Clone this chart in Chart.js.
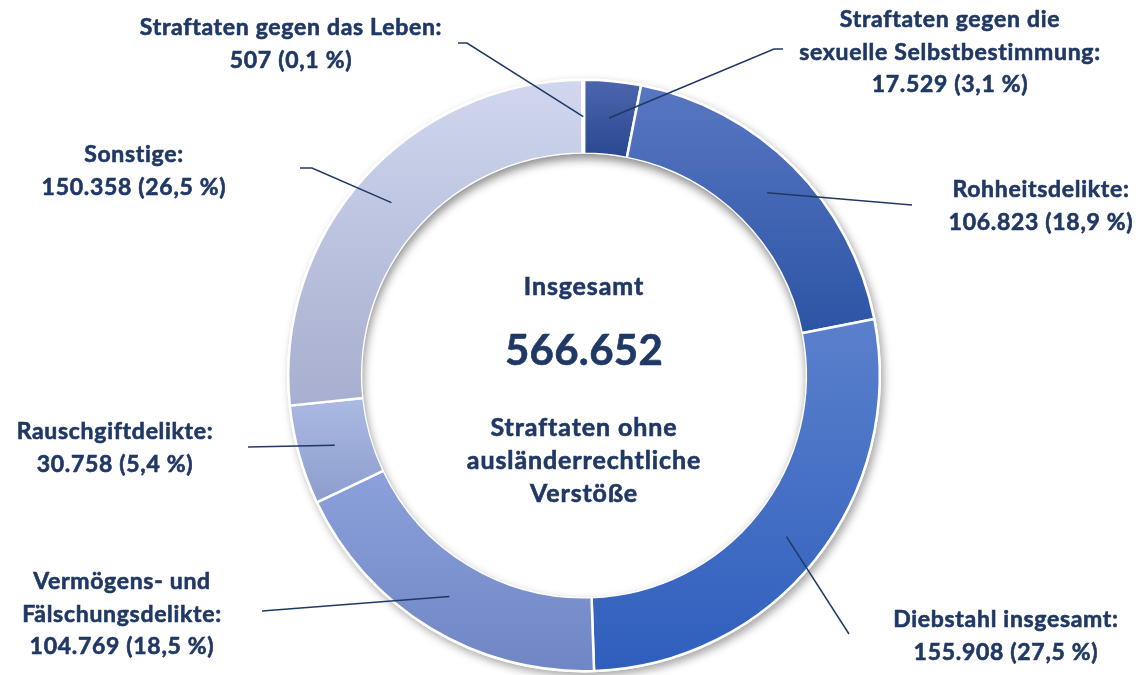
<!DOCTYPE html>
<html>
<head>
<meta charset="utf-8">
<script src="https://cdn.jsdelivr.net/npm/chart.js@4"></script>
<style>
  html, body { margin: 0; padding: 0; background: #fff; }
  #wrap { width: 1141px; height: 675px; position: relative; }
</style>
</head>
<body>
<div id="wrap"><canvas id="donut"></canvas></div>
<script>
// data (order: clockwise from 12 o'clock)
const categories = [
  ['Straftaten gegen die', 'sexuelle Selbstbestimmung:'],
  ['Rohheitsdelikte:'],
  ['Diebstahl insgesamt:'],
  ['Vermögens- und', 'Fälschungsdelikte:'],
  ['Rauschgiftdelikte:'],
  ['Sonstige:'],
  ['Straftaten gegen das Leben:']
];
const values = [17529, 106823, 155908, 104769, 30758, 150358, 507];
const shares = ['3,1 %', '18,9 %', '27,5 %', '18,5 %', '5,4 %', '26,5 %', '0,1 %'];
const totalLabel = '566.652';
const centerTitle = 'Insgesamt';
const centerNote = ['Straftaten ohne', 'ausländerrechtliche', 'Verstöße'];

// styles
const topCols = ['#4d67ad', '#5877c2', '#5b80cc', '#8ca1da', '#abbae2', '#d0d7ee', '#c4cce6'];
const botCols = ['#29488f', '#2c54a5', '#2e5fbd', '#6f85c5', '#8c9dcd', '#a7aecf', '#b0b8d8'];
const navy = '#203864';
const FONT = 'Lato, "Open Sans", sans-serif';
const CUT = 0.75;

// label layout: text center x, first line y, leader elbow points
const labelLayout = [
  { x: 950, y: 20, line: [[774, 49], [783, 49]] },
  { x: 1041, y: 190, line: [[912, 205]] },
  { x: 1006, y: 620, line: [[849, 634]] },
  { x: 122, y: 582, line: [[262, 611]] },
  { x: 115, y: 432, line: [[248, 447]] },
  { x: 134, y: 155, line: [[312, 168], [300, 168]] },
  { x: 291, y: 28, line: [[467, 43], [458, 43]] }
];

function fmt(n) { return n.toLocaleString('de-DE'); }

function geom(chart) {
  const a = chart.chartArea;
  const cx = (a.left + a.right) / 2, cy = (a.top + a.bottom) / 2;
  const R = Math.min(a.right - a.left, a.bottom - a.top) / 2;
  return { cx, cy, R, r: R * CUT };
}

function segAngles(i) {
  const tot = values.reduce((s, v) => s + v, 0);
  let acc = 0;
  for (let k = 0; k < i; k++) acc += values[k];
  const a0 = -Math.PI / 2 + acc / tot * 2 * Math.PI;
  const a1 = a0 + values[i] / tot * 2 * Math.PI;
  return [a0, a1];
}

function segGradient(c) {
  const chart = c.chart, i = c.dataIndex;
  if (!chart.chartArea) return topCols[i];
  const g = geom(chart);
  const [a0, a1] = segAngles(i);
  let ymin = Infinity, ymax = -Infinity;
  for (let s = 0; s <= 40; s++) {
    const a = a0 + (a1 - a0) * s / 40;
    for (const rr of [g.R, g.r]) {
      const y = g.cy + Math.sin(a) * rr;
      ymin = Math.min(ymin, y); ymax = Math.max(ymax, y);
    }
  }
  const grad = chart.ctx.createLinearGradient(0, ymin, 0, ymax);
  grad.addColorStop(0, topCols[i]);
  grad.addColorStop(1, botCols[i]);
  return grad;
}

const shadowPlugin = {
  id: 'shadows',
  beforeDatasetsDraw(chart) {
    const g = geom(chart), ctx = chart.ctx;
    ctx.save();
    ctx.shadowColor = 'rgba(0,0,0,0.35)';
    ctx.shadowBlur = 9;
    ctx.shadowOffsetX = 3;
    ctx.shadowOffsetY = 4;
    ctx.fillStyle = '#fff';
    ctx.beginPath();
    ctx.arc(g.cx, g.cy, g.R, 0, Math.PI * 2);
    ctx.fill();
    ctx.restore();
  },
  afterDatasetsDraw(chart) {
    const g = geom(chart), ctx = chart.ctx;
    ctx.save();
    ctx.beginPath();
    ctx.arc(g.cx, g.cy, g.r - 1, 0, Math.PI * 2);
    ctx.clip();
    ctx.shadowColor = 'rgba(0,0,0,0.45)';
    ctx.shadowBlur = 10;
    ctx.shadowOffsetY = 5;
    ctx.shadowOffsetX = 1;
    ctx.strokeStyle = '#fff';
    ctx.lineWidth = 24;
    ctx.beginPath();
    ctx.arc(g.cx, g.cy, g.r + 11, 0, Math.PI * 2);
    ctx.stroke();
    ctx.restore();
  }
};

// bold text, thickened a little with a same-colour stroke
function boldText(ctx, t, x, y, size, spacing) {
  ctx.font = 'bold ' + size + 'px ' + FONT;
  ctx.letterSpacing = spacing + 'px';
  ctx.lineWidth = 0.6;
  ctx.fillText(t, x, y);
  ctx.strokeText(t, x, y);
}

const labelPlugin = {
  id: 'labels',
  afterDraw(chart) {
    const g = geom(chart), ctx = chart.ctx;
    const meta = chart.getDatasetMeta(0);
    ctx.save();
    // leader lines
    ctx.strokeStyle = navy;
    ctx.lineWidth = 1.5;
    meta.data.forEach((arc, i) => {
      const mid = (arc.startAngle + arc.endAngle) / 2;
      const rm = (arc.innerRadius + arc.outerRadius) / 2;
      ctx.beginPath();
      ctx.moveTo(arc.x + Math.cos(mid) * rm, arc.y + Math.sin(mid) * rm);
      labelLayout[i].line.forEach(p => ctx.lineTo(p[0], p[1]));
      ctx.stroke();
    });
    // label texts
    ctx.fillStyle = navy;
    ctx.strokeStyle = navy;
    ctx.textAlign = 'center';
    ctx.textBaseline = 'middle';
    categories.forEach((lines, i) => {
      const L = labelLayout[i];
      const all = lines.concat([fmt(values[i]) + ' (' + shares[i] + ')']);
      all.forEach((t, k) => boldText(ctx, t, L.x, L.y + k * 32.5, 23, 0.7));
    });
    // center text
    boldText(ctx, centerTitle, g.cx, 287, 25, 0.9);
    boldText(ctx, totalLabel, g.cx, 351, 42, 0.3);
    centerNote.forEach((t, k) => boldText(ctx, t, g.cx, 428 + k * 33, 25, 0.9));
    ctx.restore();
  }
};

new Chart(document.getElementById('donut'), {
  type: 'doughnut',
  data: {
    labels: categories.map(l => l.join(' ')),
    datasets: [{
      data: values,
      backgroundColor: segGradient,
      borderColor: '#ffffff',
      borderWidth: 2.5,
      borderAlign: 'center'
    }]
  },
  options: {
    responsive: true, maintainAspectRatio: false,
    animation: false,
    cutout: '75%',
    layout: { padding: { top: 77, bottom: 1, left: 287, right: 260 } },
    plugins: { legend: { display: false }, tooltip: { enabled: false } }
  },
  plugins: [shadowPlugin, labelPlugin]
});
</script>
</body>
</html>
